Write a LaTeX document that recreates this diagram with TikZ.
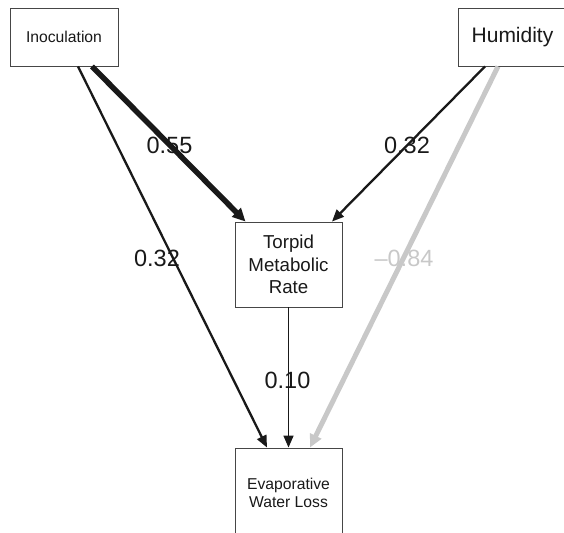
\documentclass[tikz,border=0pt]{standalone}
\usepackage{fontspec}
\setmainfont{Liberation Sans}
\usetikzlibrary{arrows.meta}
\definecolor{lgray}{RGB}{200,200,200}
\definecolor{boxline}{RGB}{70,70,70}
\definecolor{ink}{RGB}{25,25,25}
\begin{document}
\begin{tikzpicture}[x=1pt,y=-1pt,
  box/.style={draw=boxline,line width=0.9pt,rectangle,inner sep=0pt,align=center,fill=white,text=ink},
  lab/.style={inner sep=0pt,text=ink,font=\fontsize{23.5}{28}\selectfont},
  thin/.style={line width=2.3pt,draw=ink,-{Triangle[length=12pt,width=10pt]}},
  hair/.style={line width=1.5pt,draw=ink,-{Triangle[length=12pt,width=10pt]}},
  thick/.style={line width=5.5pt,draw=ink,-{Triangle[length=13pt,width=12pt]}},
  grayarr/.style={line width=5pt,draw=lgray,-{Triangle[length=13pt,width=12pt]}}]
\useasboundingbox (0,0) rectangle (564,532);
\node[box,minimum width=108pt,minimum height=58pt,font=\fontsize{15.7}{18}\selectfont] (inoc) at (64,37) {Inoculation};
\node[box,minimum width=109pt,minimum height=58pt,font=\fontsize{21}{24}\selectfont] (hum) at (512.5,37) {Humidity};
\node[box,minimum width=107pt,minimum height=85pt,font=\fontsize{18.7}{22.5}\selectfont] (tmr) at (288.5,264.5) {Torpid\\Metabolic\\Rate};
\node[box,minimum width=107pt,minimum height=90pt,font=\fontsize{15.7}{18}\selectfont] (ewl) at (288.5,493) {Evaporative\\Water Loss};
\draw[thick] ([xshift=28pt]inoc.south) -- ([xshift=-43pt]tmr.north);
\draw[thin] ([xshift=14pt]inoc.south) -- ([xshift=-21.5pt]ewl.north);
\draw[thin] ([xshift=-27.5pt]hum.south) -- ([xshift=43.5pt]tmr.north);
\draw[grayarr] ([xshift=-14.5pt]hum.south) -- ([xshift=21.5pt]ewl.north);
\draw[hair] (tmr.south) -- (ewl.north);
\node[lab] (l1) at (169.5,145) {0.55};
\node[lab] (l2) at (407,145) {0.32};
\node[lab] (l3) at (157,258) {0.32};
\node[lab,text=lgray] (l4) at (404,258) {\textendash0.84};
\node[lab] (l5) at (287.5,380) {0.10};
\end{tikzpicture}
\end{document}
